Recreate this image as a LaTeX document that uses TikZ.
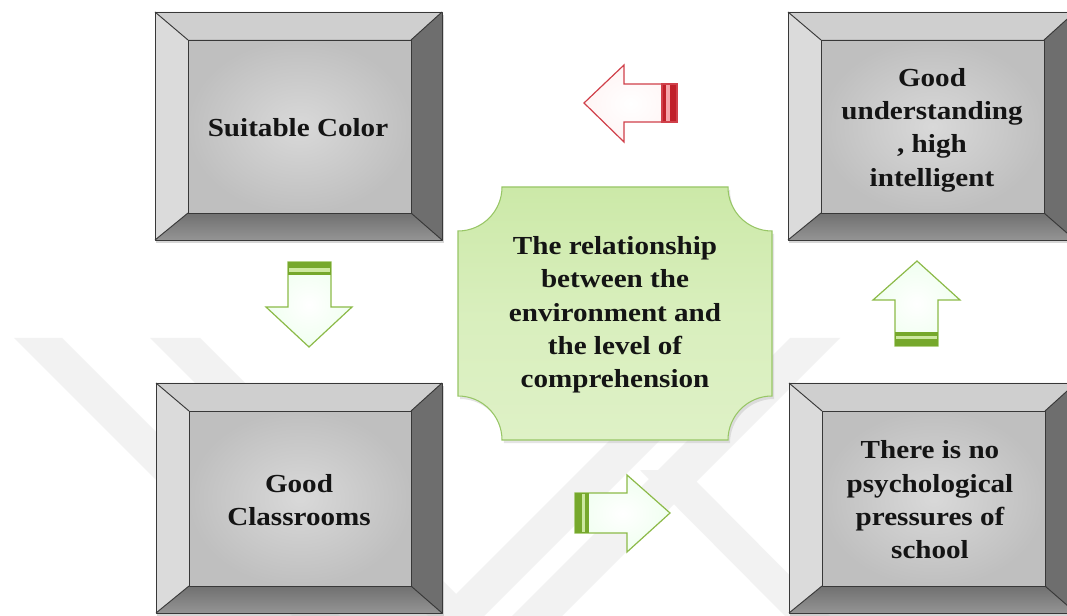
\documentclass[tikz,border=0pt]{standalone}
\usepackage{fontspec}
\newfontfamily\tnr[FakeStretch=1.12]{Liberation Serif}
\definecolor{plaqueA}{RGB}{204,233,168}
\definecolor{plaqueB}{RGB}{222,241,198}
\definecolor{plaqueline}{RGB}{152,198,102}
\definecolor{arrowgreen}{RGB}{140,186,72}
\definecolor{stripegreen}{RGB}{118,168,44}
\definecolor{stripelight}{RGB}{205,232,160}
\definecolor{arrowred}{RGB}{208,64,74}
\definecolor{stripered}{RGB}{192,32,42}
\definecolor{stripepink}{RGB}{246,165,170}
\tikzset{
  wmark/.style={fill=black!5},
  boxshadow/.style={fill=black!35, opacity=0.45},
  bevtop/.style={fill=black!19},
  bevleft/.style={fill=black!14},
  bevright/.style={fill=black!57},
  bevbot/.style={top color=black!56, bottom color=black!42},
  bevline/.style={draw=black!78, line width=0.7pt, line join=round},
  face/.style={inner color=black!15, outer color=black!25},
  boxtext/.style={font=\tnr\bfseries\fontsize{19.5}{25}\selectfont, align=center, text=black!92, inner sep=0pt},
  plaque/.style={top color=plaqueA, bottom color=plaqueB, middle color=plaqueB!70!plaqueA, draw=plaqueline, line width=0.8pt},
  garrow/.style={draw=arrowgreen, line width=0.9pt, line join=miter, inner color=white, outer color=green!6!white},
  rarrow/.style={draw=arrowred, line width=0.9pt, line join=miter, inner color=white, outer color=red!4!white},
}
\newcommand\bevbox[4]{%
  \fill[boxshadow] (#1+1,#2+3) rectangle (#3+2,#4+3);
  \path[bevtop] (#1,#2) -- (#3,#2) -- (#3-31,#2+28) -- (#1+33,#2+28) -- cycle;
  \path[bevbot] (#1,#4) -- (#3,#4) -- (#3-31,#4-27) -- (#1+33,#4-27) -- cycle;
  \path[bevleft] (#1,#2) -- (#1+33,#2+28) -- (#1+33,#4-27) -- (#1,#4) -- cycle;
  \path[bevright] (#3,#2) -- (#3-31,#2+28) -- (#3-31,#4-27) -- (#3,#4) -- cycle;
  \path[face] (#1+33,#2+28) rectangle (#3-31,#4-27);
  \draw[bevline] (#1,#2) rectangle (#3,#4);
  \draw[bevline] (#1+33,#2+28) rectangle (#3-31,#4-27);
  \draw[bevline] (#1,#2) -- (#1+33,#2+28) (#3,#2) -- (#3-31,#2+28)
                 (#1,#4) -- (#1+33,#4-27) (#3,#4) -- (#3-31,#4-27);
}
\begin{document}
\begin{tikzpicture}[x=0.75pt,y=-0.75pt]
\useasboundingbox (0,0) rectangle (1067,616);
\clip (0,0) rectangle (1067,616);
\fill[white] (0,0) rectangle (1067,616);
% watermark
\fill[wmark] (14,338) -- (62,338) -- (342,618) -- (294,618) -- cycle;
\fill[wmark] (150,338) -- (200,338) -- (480,618) -- (430,618) -- cycle;
\fill[wmark] (790,338) -- (840,338) -- (562,616) -- (512,616) -- cycle;
\fill[wmark] (700,350) -- (750,350) -- (450,650) -- (400,650) -- cycle;
\fill[wmark] (640,470) -- (685,470) -- (830,616) -- (785,616) -- cycle;
% boxes
\bevbox{155}{12}{442}{240}
\bevbox{788}{12}{1075}{240}
\bevbox{156}{383}{442}{613}
\bevbox{789}{383}{1076}{613}
% central plaque
\fill[black!30, opacity=0.35] (504,190) -- (730,190) .. controls (730,214.3) and (749.7,234) .. (774,234)
  -- (774,399) .. controls (749.7,399) and (730,418.7) .. (730,443) -- (504,443)
  .. controls (504,418.7) and (484.3,399) .. (460,399) -- (460,234)
  .. controls (484.3,234) and (504,214.3) .. (504,190) -- cycle;
\path[plaque] (502,187) -- (728,187) .. controls (728,211.3) and (747.7,231) .. (772,231)
  -- (772,396) .. controls (747.7,396) and (728,415.7) .. (728,440) -- (502,440)
  .. controls (502,415.7) and (482.3,396) .. (458,396) -- (458,231)
  .. controls (482.3,231) and (502,211.3) .. (502,187) -- cycle;
% arrows
\path[rarrow] (584,103) -- (624,65) -- (624,84) -- (677,84) -- (677,122) -- (624,122) -- (624,142) -- cycle;
\fill[stripered] (662,84) rectangle (677,122);
\fill[stripepink] (666,85) rectangle (670,121);
\draw[arrowred, line width=0.9pt] (677,84) rectangle (662,122);
\path[garrow] (288,262) -- (331,262) -- (331,307) -- (352,307) -- (309,347) -- (266,307) -- (288,307) -- cycle;
\fill[stripegreen] (288,262) rectangle (331,275);
\fill[stripelight] (289,268) rectangle (330,272);
\path[garrow] (575,493) -- (627,493) -- (627,475) -- (670,513) -- (627,552) -- (627,533) -- (575,533) -- cycle;
\fill[stripegreen] (575,493) rectangle (589,533);
\fill[stripelight] (582,494) rectangle (585,532);
\path[garrow] (917,261) -- (960,300) -- (938,300) -- (938,346) -- (895,346) -- (895,300) -- (873,300) -- cycle;
\fill[stripegreen] (895,332) rectangle (938,346);
\fill[stripelight] (896,336) rectangle (937,339);
% texts
\node[boxtext] (color) at (298,128) {Suitable Color};
\node[boxtext] (understanding) at (932,130) {Good\\understanding\\, high\\intelligent};
\node[boxtext] (classrooms) at (299,500) {Good\\Classrooms};
\node[boxtext] (pressures) at (930,500) {There is no\\psychological\\pressures of\\school};
\node[boxtext] (relationship) at (615,315) {The relationship\\between the\\environment and\\the level of\\comprehension};
\end{tikzpicture}
\end{document}
